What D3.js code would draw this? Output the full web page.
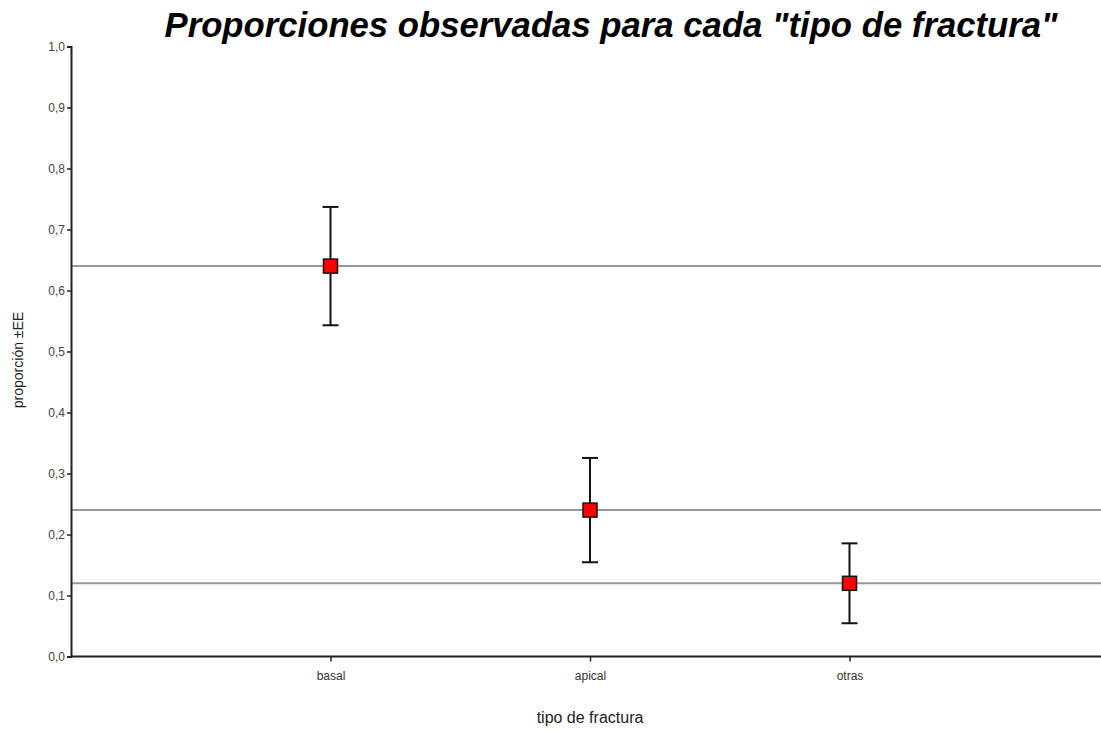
<!DOCTYPE html>
<html>
<head>
<meta charset="utf-8">
<script src="https://cdn.jsdelivr.net/npm/d3@7"></script>
<style>
  body { margin: 0; background: #fff; }
  svg { display: block; font-family: "Liberation Sans", Arial, sans-serif; }
</style>
</head>
<body>
<svg id="chart" width="1101" height="730"></svg>
<script>
const categories = ['basal', 'apical', 'otras'];
const proportions = [0.64, 0.24, 0.12];
const stdErrors = [0.097, 0.0855, 0.0655];
const yTicks = [0, 0.1, 0.2, 0.3, 0.4, 0.5, 0.6, 0.7, 0.8, 0.9, 1.0];

const width = 1101;
const height = 730;
const margin = { top: 46.5, left: 71, bottom: 73.5 };

const svg = d3.select('#chart');

const x = d3.scalePoint()
  .domain(categories)
  .range([margin.left, margin.left + 1038])
  .padding(1);

const y = d3.scaleLinear()
  .domain([0, 1])
  .range([height - margin.bottom, margin.top]);

const data = categories.map((c, i) => ({ cat: c, p: proportions[i], se: stdErrors[i] }));

// reference lines at each proportion
svg.append('g')
  .selectAll('line')
  .data(data)
  .enter()
  .append('line')
  .attr('x1', margin.left)
  .attr('x2', width)
  .attr('y1', d => y(d.p))
  .attr('y2', d => y(d.p))
  .attr('stroke', '#999')
  .attr('stroke-width', 2);

// y axis
const yAxis = d3.axisLeft(y)
  .tickValues(yTicks)
  .tickSize(4)
  .tickFormat(d => d3.format('.1f')(d).replace('.', ','));

const gy = svg.append('g')
  .attr('transform', `translate(${margin.left},0)`)
  .call(yAxis);
gy.select('.domain').attr('stroke', '#222').attr('stroke-width', 2);
gy.selectAll('.tick line').attr('stroke', '#222').attr('stroke-width', 1.5);
gy.selectAll('.tick text')
  .attr('font-size', 12)
  .attr('fill', '#444')
  .attr('x', -6);

// x axis
const xAxis = d3.axisBottom(x).tickSize(5).tickSizeOuter(0);
const gx = svg.append('g')
  .attr('transform', `translate(0,${y(0)})`)
  .call(xAxis);
gx.select('.domain')
  .attr('d', `M${margin.left},0H${width}`)
  .attr('stroke', '#222')
  .attr('stroke-width', 2);
gx.selectAll('.tick line').attr('stroke', '#222').attr('stroke-width', 1.5);
gx.selectAll('.tick text')
  .attr('font-size', 12)
  .attr('fill', '#333')
  .attr('y', 15);

// error bars
const bars = svg.append('g');
bars.selectAll('line.err')
  .data(data)
  .enter()
  .append('line')
  .attr('class', 'err')
  .attr('x1', d => x(d.cat))
  .attr('x2', d => x(d.cat))
  .attr('y1', d => y(d.p + d.se))
  .attr('y2', d => y(d.p - d.se))
  .attr('stroke', '#111')
  .attr('stroke-width', 2);

[1, -1].forEach(s => {
  bars.selectAll(null)
    .data(data)
    .enter()
    .append('line')
    .attr('x1', d => x(d.cat) - 8)
    .attr('x2', d => x(d.cat) + 8)
    .attr('y1', d => y(d.p + s * d.se))
    .attr('y2', d => y(d.p + s * d.se))
    .attr('stroke', '#111')
    .attr('stroke-width', 2);
});

// points
svg.append('g')
  .selectAll('rect')
  .data(data)
  .enter()
  .append('rect')
  .attr('x', d => x(d.cat) - 7)
  .attr('y', d => y(d.p) - 7)
  .attr('width', 14)
  .attr('height', 14)
  .attr('fill', '#ff0000')
  .attr('stroke', '#111')
  .attr('stroke-width', 1.5);

// title (condensed look, stretched to the original width)
svg.append('text')
  .attr('x', 611)
  .attr('y', 37)
  .attr('text-anchor', 'middle')
  .attr('font-size', 35)
  .attr('font-weight', 'bold')
  .attr('font-style', 'italic')
  .attr('fill', '#000')
  .attr('textLength', 893)
  .attr('lengthAdjust', 'spacingAndGlyphs')
  .text('Proporciones observadas para cada "tipo de fractura"');

// axis titles
svg.append('text')
  .attr('x', 590)
  .attr('y', 723)
  .attr('text-anchor', 'middle')
  .attr('font-size', 16)
  .attr('fill', '#222')
  .text('tipo de fractura');

svg.append('text')
  .attr('transform', 'translate(23,360) rotate(-90)')
  .attr('text-anchor', 'middle')
  .attr('font-size', 14)
  .attr('fill', '#222')
  .text('proporción ±EE');
</script>
</body>
</html>
